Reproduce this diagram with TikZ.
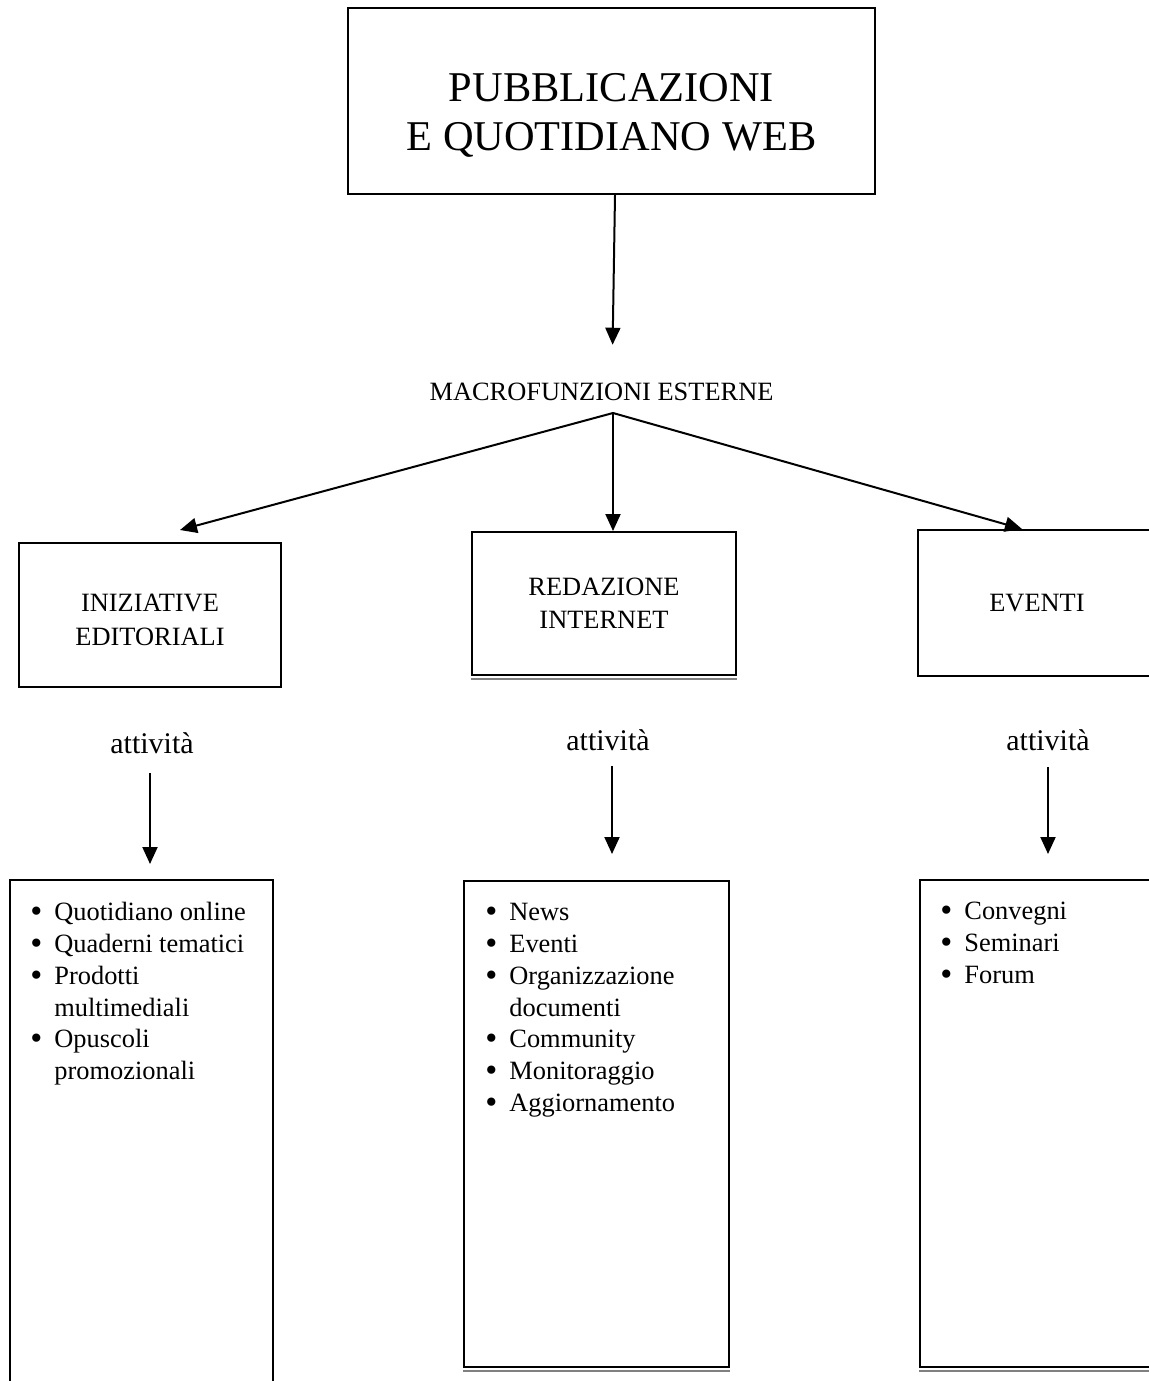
\documentclass[tikz,border=0pt]{standalone}
\usepackage{fontspec}
\usepackage{graphicx}
\setmainfont{Liberation Serif}
\usetikzlibrary{arrows.meta,calc}

\newcommand{\voce}[1]{\makebox[12pt][l]{\raisebox{-0.07em}{\scalebox{1.3}{\textbullet}}}#1}
\newcommand{\segue}[1]{\hspace*{12pt}#1}

\begin{document}
\begin{tikzpicture}[x=0.5pt,y=-0.5pt,
  box/.style={draw, line width=1pt, inner sep=0pt, align=center,
    font=\fontsize{13.2}{16.5}\selectfont},
  freccia/.style={line width=1pt, -{Triangle[length=8.5pt,width=7.5pt]}},
  testo/.style={inner sep=0pt, align=center, font=\fontsize{13.2}{16}\selectfont},
  elenco/.style={inner sep=0pt, align=left, anchor=north west,
    font=\fontsize{13.2}{15.9}\selectfont},
  ombra/.style={gray, line width=1pt}]
\useasboundingbox (0,0) rectangle (1149,1381);
\clip (0,0) rectangle (1149,1381);

% titolo
\node[box, minimum width=263.5pt, minimum height=93pt] (pub) at (611.5,101) {};
\node[testo, font=\fontsize{21.2}{24.5}\selectfont] (pubtesto) at (611.5,115)
  {PUBBLICAZIONI\\E QUOTIDIANO WEB};

% macrofunzioni
\node[testo] (macro) at (601.5,392) {MACROFUNZIONI ESTERNE};
\coordinate (hub) at (613,413);
\draw[freccia, shorten >=19pt] ($(pub.south)+(3.5,0)$) -- ($(macro.north)+(10.5,0)$);

% aree
\node[box, minimum width=131pt, minimum height=72pt] (iniz) at (150,615) {};
\node[testo, font=\fontsize{13.2}{17}\selectfont] (iniztesto) at (150,620)
  {INIZIATIVE\\EDITORIALI};
\node[box, minimum width=132pt, minimum height=71.5pt] (redaz) at (604,603.5)
  {REDAZIONE\\INTERNET};
\node[box, minimum width=119pt, minimum height=73pt] (eventi) at (1037,603)
  {EVENTI};
\draw[ombra] ([yshift=-1.5pt]redaz.south west) -- ([yshift=-1.5pt]redaz.south east);

\draw[freccia] (hub) -- ($(iniz.north)+(30,-12)$);
\draw[freccia] (hub) -- ($(redaz.north)+(9,0)$);
\draw[freccia] (hub) -- ($(eventi.north)+(-15,0)$);

% attivita
\node[testo, font=\fontsize{15}{17}\selectfont] (att1) at (152,743) {attività};
\node[testo, font=\fontsize{15}{17}\selectfont] (att2) at (608,740) {attività};
\node[testo, font=\fontsize{15}{17}\selectfont] (att3) at (1048,740) {attività};

% elenchi
\node[box, minimum width=131.5pt, minimum height=270pt] (list1) at (141.5,1150) {};
\node[box, minimum width=132.5pt, minimum height=243pt] (list2) at (596.5,1124) {};
\node[box, minimum width=135pt, minimum height=243.5pt] (list3) at (1055,1123.5) {};
\draw[ombra] ([yshift=-1.5pt]list2.south west) -- ([yshift=-1.5pt]list2.south east);
\draw[ombra] ([yshift=-1.5pt]list3.south west) -- ([yshift=-1.5pt]list3.south east);

\draw[freccia, shorten <=9.5pt, shorten >=7.5pt] ([xshift=-1pt]att1.south) -- ([xshift=-1pt]att1.south |- list1.north);
\draw[freccia, shorten <=7.5pt, shorten >=13pt] ([xshift=2pt]att2.south) -- ([xshift=2pt]att2.south |- list2.north);
\draw[freccia, shorten <=8pt, shorten >=12.5pt] (att3.south) -- (att3.south |- list3.north);

\node[elenco] (voci1) at ($(list1.north west)+(21,23)$)
  {\voce{Quotidiano online}\\\voce{Quaderni tematici}\\\voce{Prodotti}\\
   \segue{multimediali}\\\voce{Opuscoli}\\\segue{promozionali}};
\node[elenco] (voci2) at ($(list2.north west)+(22,23)$)
  {\voce{News}\\\voce{Eventi}\\\voce{Organizzazione}\\\segue{documenti}\\
   \voce{Community}\\\voce{Monitoraggio}\\\voce{Aggiornamento}};
\node[elenco] (voci3) at ($(list3.north west)+(21,23)$)
  {\voce{Convegni}\\\voce{Seminari}\\\voce{Forum}};
\end{tikzpicture}
\end{document}
